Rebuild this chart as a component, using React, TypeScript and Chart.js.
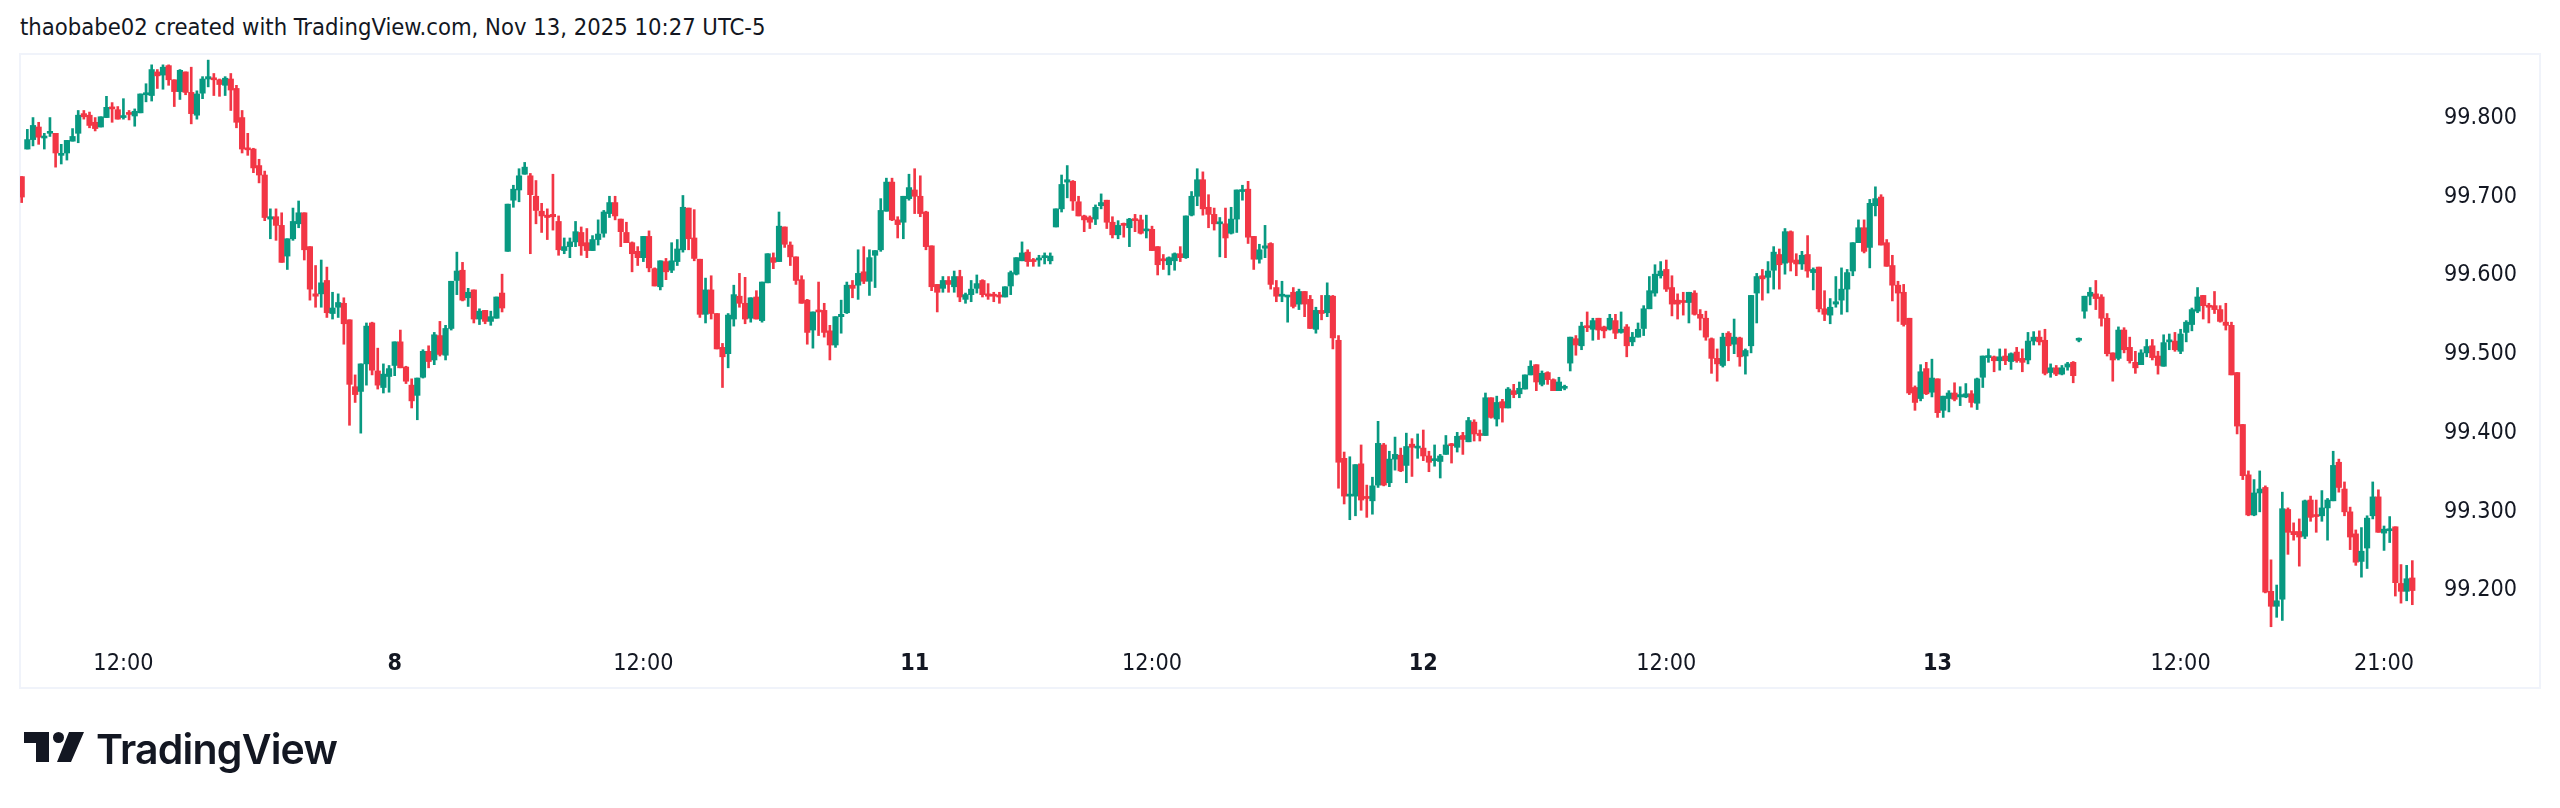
import { useEffect, useRef } from 'react'
import { Chart, registerables } from 'chart.js'
Chart.register(...registerables)

const highs = [
  99.723,99.783,99.798,99.792,99.778,99.798,99.778,99.764,99.769,99.784,
  99.807,99.807,99.805,99.798,99.799,99.825,99.817,99.812,99.822,99.807,
  99.809,99.828,99.841,99.865,99.859,99.865,99.865,99.846,99.859,99.856,
  99.862,99.832,99.850,99.871,99.854,99.847,99.850,99.854,99.839,99.807,
  99.778,99.759,99.745,99.730,99.682,99.682,99.677,99.644,99.683,99.692,
  99.677,99.634,99.610,99.617,99.608,99.576,99.574,99.569,99.541,99.471,
  99.485,99.537,99.538,99.505,99.485,99.483,99.513,99.528,99.482,99.466,
  99.467,99.503,99.508,99.525,99.539,99.534,99.590,99.627,99.614,99.581,
  99.579,99.555,99.553,99.552,99.570,99.599,99.688,99.712,99.733,99.741,
  99.727,99.718,99.689,99.682,99.726,99.673,99.645,99.645,99.666,99.659,
  99.657,99.648,99.668,99.680,99.698,99.698,99.669,99.665,99.640,99.634,
  99.647,99.654,99.607,99.616,99.619,99.639,99.643,99.699,99.683,99.681,
  99.618,99.594,99.597,99.549,99.511,99.549,99.585,99.600,99.595,99.569,
  99.578,99.589,99.625,99.626,99.678,99.659,99.640,99.621,99.597,99.567,
  99.551,99.589,99.562,99.534,99.545,99.566,99.589,99.591,99.630,99.634,
  99.630,99.629,99.695,99.721,99.721,99.672,99.698,99.726,99.733,99.724,
  99.679,99.635,99.586,99.596,99.596,99.603,99.604,99.575,99.591,99.598,
  99.592,99.587,99.576,99.576,99.583,99.603,99.620,99.640,99.630,99.619,
  99.623,99.626,99.626,99.682,99.725,99.737,99.718,99.698,99.674,99.673,
  99.687,99.701,99.693,99.672,99.667,99.664,99.670,99.675,99.674,99.674,
  99.660,99.634,99.624,99.621,99.626,99.634,99.673,99.704,99.733,99.729,
  99.700,99.683,99.671,99.683,99.684,99.706,99.712,99.717,99.647,99.637,
  99.661,99.639,99.591,99.590,99.572,99.582,99.580,99.577,99.572,99.557,
  99.572,99.588,99.572,99.521,99.373,99.367,99.357,99.382,99.331,99.341,
  99.412,99.384,99.374,99.392,99.378,99.397,99.390,99.396,99.401,99.374,
  99.382,99.370,99.394,99.384,99.398,99.398,99.417,99.414,99.401,99.448,
  99.442,99.444,99.440,99.455,99.459,99.462,99.471,99.489,99.484,99.476,
  99.475,99.466,99.468,99.458,99.519,99.521,99.538,99.551,99.543,99.543,
  99.533,99.548,99.548,99.551,99.535,99.525,99.537,99.559,99.596,99.611,
  99.615,99.617,99.597,99.574,99.576,99.576,99.578,99.554,99.552,99.518,
  99.504,99.524,99.526,99.542,99.519,99.504,99.572,99.600,99.605,99.615,
  99.634,99.631,99.657,99.654,99.625,99.628,99.648,99.607,99.608,99.578,
  99.568,99.596,99.607,99.605,99.639,99.668,99.668,99.694,99.710,99.700,
  99.643,99.623,99.590,99.586,99.543,99.457,99.484,99.487,99.491,99.466,
  99.444,99.451,99.461,99.456,99.460,99.451,99.467,99.495,99.504,99.495,
  99.504,99.504,99.499,99.506,99.504,99.525,99.526,99.527,99.529,99.485,
  99.483,99.483,99.487,99.488,99.518,99.571,99.582,99.591,99.573,99.549,
  99.499,99.532,99.531,99.519,99.501,99.503,99.516,99.516,99.501,99.522,
  99.523,99.525,99.529,99.540,99.556,99.582,99.572,99.562,99.577,99.559,
  99.562,99.538,99.474,99.408,99.349,99.338,99.349,99.330,99.236,99.204,
  99.322,99.302,99.283,99.288,99.312,99.317,99.312,99.324,99.314,99.374,
  99.364,99.335,99.303,99.274,99.277,99.292,99.335,99.325,99.279,99.291,
  99.278,99.230,99.229,99.235,
]

const lows = [
  99.690,99.758,99.762,99.764,99.758,99.774,99.735,99.739,99.744,99.768,
  99.766,99.796,99.785,99.781,99.786,99.798,99.792,99.796,99.796,99.795,
  99.787,99.804,99.818,99.819,99.835,99.834,99.839,99.812,99.821,99.827,
  99.790,99.796,99.822,99.837,99.826,99.825,99.826,99.807,99.785,99.753,
  99.750,99.728,99.715,99.667,99.644,99.642,99.614,99.605,99.642,99.658,
  99.617,99.566,99.557,99.557,99.544,99.542,99.544,99.510,99.407,99.436,
  99.397,99.458,99.471,99.453,99.448,99.449,99.470,99.480,99.460,99.429,
  99.414,99.467,99.480,99.484,99.495,99.490,99.528,99.573,99.565,99.558,
  99.537,99.535,99.536,99.534,99.543,99.551,99.628,99.684,99.691,99.726,
  99.625,99.663,99.652,99.643,99.655,99.623,99.625,99.620,99.634,99.623,
  99.620,99.629,99.636,99.646,99.671,99.668,99.634,99.639,99.602,99.610,
  99.615,99.602,99.584,99.579,99.592,99.601,99.610,99.627,99.630,99.616,
  99.544,99.537,99.542,99.504,99.455,99.480,99.533,99.557,99.536,99.538,
  99.542,99.538,99.588,99.606,99.615,99.633,99.610,99.586,99.562,99.510,
  99.505,99.521,99.519,99.490,99.506,99.524,99.549,99.569,99.567,99.587,
  99.572,99.582,99.628,99.679,99.667,99.645,99.644,99.693,99.676,99.672,
  99.630,99.578,99.551,99.576,99.576,99.576,99.564,99.562,99.564,99.575,
  99.570,99.567,99.564,99.562,99.570,99.573,99.598,99.616,99.609,99.609,
  99.609,99.612,99.612,99.659,99.678,99.696,99.680,99.673,99.653,99.657,
  99.662,99.682,99.657,99.645,99.644,99.646,99.634,99.653,99.650,99.645,
  99.629,99.598,99.605,99.598,99.604,99.615,99.619,99.673,99.686,99.674,
  99.658,99.655,99.621,99.620,99.650,99.652,99.693,99.638,99.605,99.613,
  99.620,99.580,99.564,99.564,99.538,99.556,99.554,99.545,99.530,99.524,
  99.541,99.545,99.504,99.327,99.307,99.287,99.292,99.299,99.290,99.294,
  99.328,99.330,99.329,99.350,99.348,99.334,99.342,99.365,99.362,99.348,
  99.355,99.340,99.370,99.359,99.373,99.370,99.386,99.387,99.387,99.394,
  99.416,99.406,99.411,99.429,99.442,99.442,99.453,99.471,99.451,99.457,
  99.459,99.451,99.451,99.452,99.476,99.496,99.503,99.526,99.515,99.516,
  99.518,99.528,99.517,99.524,99.494,99.508,99.519,99.521,99.555,99.571,
  99.594,99.577,99.546,99.542,99.547,99.537,99.547,99.528,99.515,99.473,
  99.463,99.481,99.489,99.498,99.482,99.472,99.499,99.537,99.566,99.575,
  99.580,99.580,99.599,99.603,99.597,99.605,99.595,99.579,99.551,99.540,
  99.536,99.557,99.548,99.551,99.597,99.639,99.626,99.607,99.673,99.636,
  99.609,99.565,99.539,99.533,99.446,99.426,99.438,99.446,99.443,99.417,
  99.417,99.424,99.438,99.432,99.442,99.430,99.427,99.455,99.487,99.475,
  99.477,99.484,99.478,99.487,99.475,99.485,99.509,99.509,99.471,99.468,
  99.470,99.471,99.477,99.461,99.513,99.543,99.560,99.554,99.533,99.495,
  99.463,99.490,99.499,99.486,99.473,99.484,99.494,99.490,99.472,99.482,
  99.503,99.501,99.498,99.513,99.527,99.550,99.542,99.537,99.549,99.538,
  99.528,99.471,99.396,99.338,99.292,99.292,99.297,99.194,99.151,99.163,
  99.159,99.243,99.261,99.228,99.263,99.285,99.271,99.285,99.261,99.311,
  99.322,99.292,99.249,99.229,99.214,99.225,99.288,99.271,99.248,99.258,
  99.190,99.181,99.184,99.179,
]

const opens = [
  99.723,99.758,99.770,99.786,99.772,99.778,99.778,99.750,99.753,99.768,
  99.778,99.803,99.801,99.792,99.786,99.798,99.810,99.808,99.798,99.803,
  99.800,99.804,99.827,99.826,99.856,99.852,99.864,99.846,99.831,99.856,
  99.830,99.801,99.829,99.847,99.848,99.846,99.839,99.847,99.835,99.798,
  99.759,99.758,99.737,99.725,99.669,99.672,99.661,99.622,99.644,99.663,
  99.677,99.634,99.574,99.574,99.591,99.549,99.557,99.562,99.541,99.456,
  99.450,99.485,99.537,99.476,99.455,99.469,99.483,99.513,99.481,99.458,
  99.445,99.468,99.501,99.490,99.521,99.496,99.530,99.591,99.604,99.569,
  99.579,99.542,99.553,99.539,99.543,99.575,99.628,99.693,99.706,99.726,
  99.724,99.698,99.679,99.674,99.675,99.666,99.629,99.634,99.640,99.652,
  99.639,99.629,99.643,99.651,99.676,99.690,99.669,99.652,99.639,99.628,
  99.620,99.647,99.606,99.583,99.615,99.604,99.615,99.630,99.683,99.645,
  99.618,99.548,99.579,99.549,99.506,99.498,99.542,99.571,99.562,99.543,
  99.570,99.540,99.588,99.620,99.615,99.659,99.636,99.621,99.592,99.566,
  99.528,99.553,99.553,99.527,99.509,99.545,99.550,99.585,99.585,99.602,
  99.590,99.623,99.630,99.679,99.716,99.668,99.665,99.695,99.706,99.698,
  99.678,99.635,99.586,99.581,99.591,99.583,99.596,99.567,99.573,99.581,
  99.591,99.574,99.573,99.572,99.570,99.584,99.599,99.616,99.627,99.616,
  99.617,99.620,99.616,99.659,99.682,99.716,99.717,99.691,99.673,99.671,
  99.669,99.686,99.693,99.665,99.649,99.662,99.658,99.668,99.668,99.654,
  99.656,99.634,99.617,99.611,99.616,99.625,99.620,99.674,99.698,99.719,
  99.684,99.675,99.663,99.663,99.651,99.669,99.704,99.707,99.647,99.618,
  99.632,99.638,99.582,99.571,99.570,99.576,99.561,99.577,99.567,99.529,
  99.553,99.550,99.571,99.515,99.365,99.317,99.317,99.358,99.315,99.311,
  99.331,99.382,99.334,99.364,99.369,99.356,99.383,99.378,99.378,99.368,
  99.362,99.361,99.370,99.383,99.379,99.394,99.386,99.411,99.396,99.394,
  99.442,99.415,99.437,99.429,99.451,99.447,99.453,99.471,99.484,99.459,
  99.474,99.465,99.451,99.454,99.486,99.517,99.508,99.533,99.529,99.543,
  99.532,99.529,99.540,99.525,99.532,99.513,99.519,99.530,99.555,99.575,
  99.597,99.605,99.582,99.566,99.565,99.563,99.575,99.548,99.543,99.517,
  99.492,99.483,99.524,99.510,99.518,99.495,99.508,99.575,99.597,99.595,
  99.604,99.624,99.613,99.653,99.617,99.612,99.624,99.601,99.608,99.555,
  99.547,99.561,99.566,99.580,99.603,99.639,99.658,99.633,99.686,99.697,
  99.639,99.610,99.585,99.576,99.543,99.455,99.441,99.479,99.449,99.466,
  99.426,99.441,99.448,99.443,99.443,99.447,99.435,99.468,99.493,99.494,
  99.489,99.495,99.488,99.500,99.492,99.490,99.514,99.519,99.515,99.474,
  99.480,99.472,99.481,99.487,99.515,99.552,99.571,99.574,99.570,99.543,
  99.499,99.492,99.528,99.506,99.487,99.484,99.499,99.508,99.495,99.482,
  99.513,99.514,99.501,99.525,99.535,99.552,99.572,99.558,99.559,99.554,
  99.538,99.534,99.474,99.408,99.344,99.293,99.321,99.328,99.196,99.177,
  99.186,99.300,99.272,99.272,99.266,99.312,99.292,99.292,99.302,99.311,
  99.360,99.326,99.297,99.269,99.234,99.251,99.292,99.316,99.270,99.273,
  99.278,99.206,99.196,99.213,
]

const closes = [
  99.697,99.770,99.788,99.773,99.774,99.780,99.753,99.751,99.769,99.774,
  99.801,99.799,99.788,99.784,99.799,99.811,99.809,99.796,99.799,99.802,
  99.806,99.828,99.828,99.859,99.851,99.862,99.846,99.831,99.858,99.830,
  99.803,99.828,99.847,99.850,99.846,99.840,99.848,99.833,99.792,99.758,
  99.757,99.734,99.725,99.671,99.672,99.661,99.614,99.644,99.666,99.677,
  99.630,99.580,99.571,99.588,99.550,99.556,99.563,99.536,99.459,99.446,
  99.485,99.533,99.477,99.458,99.472,99.479,99.513,99.480,99.463,99.438,
  99.467,99.501,99.488,99.522,99.497,99.530,99.590,99.603,99.566,99.576,
  99.542,99.552,99.539,99.545,99.570,99.556,99.688,99.707,99.724,99.735,
  99.700,99.680,99.673,99.671,99.672,99.630,99.634,99.640,99.653,99.635,
  99.629,99.643,99.650,99.678,99.690,99.673,99.653,99.639,99.625,99.620,
  99.647,99.607,99.584,99.616,99.602,99.616,99.631,99.684,99.644,99.619,
  99.548,99.579,99.549,99.504,99.494,99.547,99.573,99.562,99.542,99.569,
  99.542,99.589,99.625,99.614,99.660,99.637,99.621,99.591,99.562,99.525,
  99.551,99.551,99.525,99.509,99.545,99.548,99.585,99.581,99.600,99.590,
  99.620,99.629,99.680,99.716,99.668,99.662,99.698,99.709,99.698,99.676,
  99.634,99.583,99.576,99.591,99.586,99.596,99.570,99.573,99.580,99.587,
  99.573,99.571,99.571,99.570,99.583,99.601,99.620,99.626,99.615,99.615,
  99.619,99.621,99.622,99.682,99.713,99.719,99.692,99.673,99.668,99.665,
  99.684,99.690,99.665,99.649,99.661,99.661,99.669,99.667,99.651,99.656,
  99.629,99.611,99.616,99.620,99.625,99.620,99.673,99.698,99.719,99.682,
  99.675,99.663,99.665,99.645,99.669,99.706,99.705,99.646,99.618,99.630,
  99.635,99.586,99.571,99.572,99.571,99.558,99.577,99.561,99.530,99.553,
  99.549,99.572,99.518,99.360,99.317,99.319,99.357,99.312,99.314,99.330,
  99.384,99.331,99.364,99.370,99.349,99.380,99.379,99.379,99.368,99.360,
  99.364,99.368,99.382,99.381,99.393,99.389,99.413,99.396,99.394,99.442,
  99.417,99.436,99.429,99.453,99.446,99.454,99.471,99.482,99.462,99.473,
  99.465,99.451,99.462,99.455,99.519,99.509,99.533,99.531,99.540,99.528,
  99.527,99.543,99.524,99.529,99.508,99.519,99.529,99.555,99.578,99.599,
  99.603,99.580,99.561,99.561,99.563,99.576,99.548,99.543,99.519,99.492,
  99.485,99.519,99.508,99.519,99.494,99.502,99.572,99.596,99.593,99.603,
  99.627,99.611,99.653,99.614,99.612,99.623,99.603,99.605,99.555,99.548,
  99.557,99.564,99.580,99.601,99.639,99.658,99.628,99.689,99.695,99.636,
  99.609,99.585,99.575,99.535,99.448,99.436,99.475,99.447,99.467,99.423,
  99.444,99.448,99.440,99.446,99.447,99.436,99.466,99.495,99.494,99.489,
  99.494,99.489,99.498,99.489,99.487,99.514,99.519,99.513,99.473,99.480,
  99.472,99.480,99.485,99.470,99.516,99.571,99.576,99.568,99.543,99.498,
  99.490,99.528,99.503,99.489,99.480,99.499,99.507,99.493,99.483,99.512,
  99.514,99.503,99.523,99.538,99.554,99.570,99.559,99.557,99.554,99.539,
  99.534,99.471,99.406,99.343,99.293,99.321,99.326,99.195,99.177,99.184,
  99.301,99.271,99.268,99.265,99.311,99.290,99.291,99.302,99.312,99.356,
  99.328,99.297,99.265,99.233,99.247,99.289,99.316,99.271,99.275,99.274,
  99.207,99.196,99.212,99.197,
]

// bar index of each time label on the bottom axis
const timeTickBars = [18, 66, 110, 158, 200, 248, 291, 339, 382, 418]
const timeTickLabels = ['12:00', '8', '12:00', '11', '12:00', '12', '12:00', '13', '12:00', '21:00']
const dayLabels = ['8', '11', '12', '13']
const priceTicks = [99.2, 99.3, 99.4, 99.5, 99.6, 99.7, 99.8]

const UP = '#089981'
const DOWN = '#f23645'
const INK = '#131722'
const FONT = '"DejaVu Sans Condensed", "DejaVu Sans"'

export default function App() {
  const ref = useRef<HTMLCanvasElement | null>(null)
  useEffect(() => {
    if (!ref.current) return
    const colors = opens.map((o, i) => (closes[i] >= o ? UP : DOWN))
    const chart = new Chart(ref.current, {
      type: 'bar',
      data: {
        datasets: [
          {
            data: opens.map((_, i) => ({ x: i, y: [lows[i], highs[i]] })) as any,
            backgroundColor: colors,
            barThickness: 2,
            minBarLength: 1,
            order: 2,
          },
          {
            data: opens.map((o, i) => ({ x: i, y: [o, closes[i]] })) as any,
            backgroundColor: colors,
            barThickness: 5.5,
            minBarLength: 2,
            order: 1,
          },
        ],
      },
      options: {
        animation: false,
        responsive: false,
        devicePixelRatio: 1,
        layout: { padding: { left: 20, top: 55, right: 21, bottom: 121 } },
        plugins: { legend: { display: false }, tooltip: { enabled: false } },
        datasets: { bar: { grouped: false, borderSkipped: false } },
        scales: {
          x: {
            type: 'linear',
            offset: false,
            min: -0.3,
            max: 425.6,
            grid: { display: false, offset: false },
            border: { display: false },
            afterBuildTicks: (s: any) => { s.ticks = timeTickBars.map((value) => ({ value })) },
            afterFit: (s: any) => { s.height = 42 },
            ticks: {
              color: INK,
              padding: -3,
              autoSkip: false,
              maxRotation: 0,
              callback: (v: any) => timeTickLabels[timeTickBars.indexOf(Number(v))],
              font: (c: any) => ({
                family: FONT,
                size: 23.2,
                weight: dayLabels.includes(c.tick?.label) ? 'bold' : 'normal',
              }),
            },
          },
          y: {
            position: 'right',
            min: 99.1278,
            max: 99.8775,
            grid: { display: false },
            border: { display: false },
            afterBuildTicks: (s: any) => { s.ticks = priceTicks.map((value) => ({ value })) },
            afterFit: (s: any) => { s.width = 112 },
            ticks: {
              color: INK,
              padding: 9,
              labelOffset: 2,
              font: { family: FONT, size: 23.2 },
              callback: (v: any) => Number(v).toFixed(3),
            },
          },
        },
      },
    })
    return () => chart.destroy()
  }, [])

  return (
    <div style={{ position: 'absolute', left: 0, top: 0, width: 2560, height: 808, background: '#fff', overflow: 'hidden' }}>
      <div style={{ position: 'absolute', left: 20, top: 13, fontFamily: FONT, fontSize: 23.6, color: INK, whiteSpace: 'nowrap' }}>
        thaobabe02 created with TradingView.com, Nov 13, 2025 10:27 UTC-5
      </div>
      <div style={{ position: 'absolute', left: 19, top: 53, width: 2518, height: 632, border: '2px solid #f0f3fa' }} />
      <canvas ref={ref} width={2560} height={808} style={{ position: 'absolute', left: 0, top: 0 }} />
      <svg width={70} height={40} style={{ position: 'absolute', left: 20, top: 728 }}>
        <path d="M4 4H29V34H16V15H4Z M49 4H64L51 34H37Z" fill={INK} />
        <circle cx={38.5} cy={9.5} r={5.5} fill={INK} />
      </svg>
      <div style={{ position: 'absolute', left: 96, top: 724, fontFamily: 'Inter', fontWeight: 600, fontSize: 41, letterSpacing: -0.8, color: INK, whiteSpace: 'nowrap' }}>
        TradingView
      </div>
    </div>
  )
}
